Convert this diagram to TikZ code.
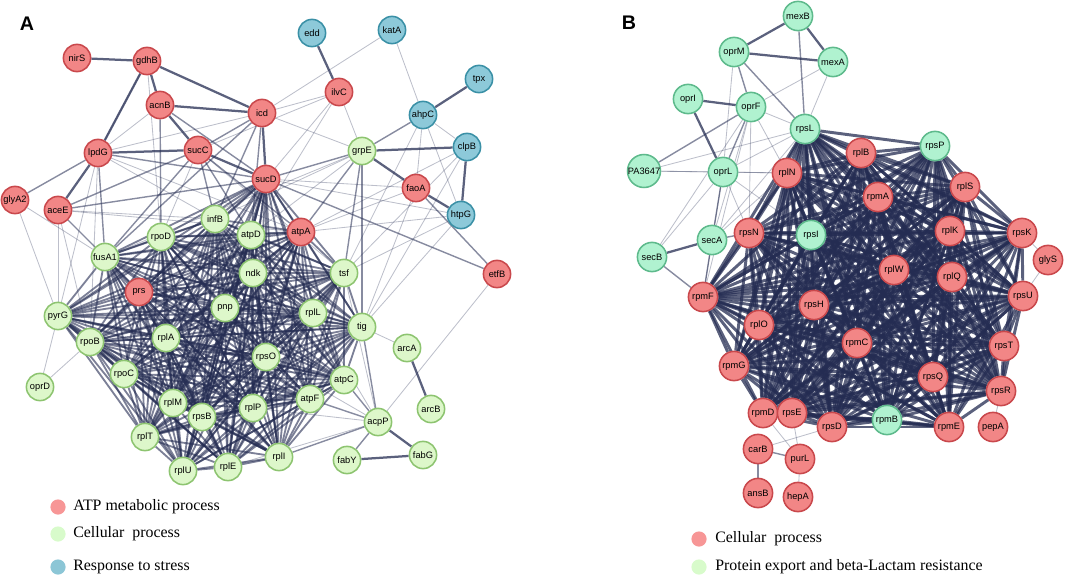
\documentclass[tikz,border=0pt]{standalone}
\usepackage{fontspec}
\setmainfont{Liberation Serif}
\setsansfont{Liberation Sans}

\definecolor{genered}{RGB}{242,134,134}
\definecolor{generedline}{RGB}{201,72,76}
\definecolor{genegreen}{RGB}{221,247,202}
\definecolor{genegreenline}{RGB}{141,196,112}
\definecolor{geneblue}{RGB}{141,201,217}
\definecolor{geneblueline}{RGB}{58,144,166}
\definecolor{genemint}{RGB}{176,242,208}
\definecolor{genemintline}{RGB}{94,186,140}
\definecolor{linknavy}{RGB}{36,44,82}
\definecolor{keyred}{RGB}{247,150,150}
\definecolor{keygreen}{RGB}{216,251,203}
\definecolor{keyblue}{RGB}{140,198,214}

\pgfdeclarelayer{links}
\pgfsetlayers{links,main}

\tikzset{
  gene/.style={circle, draw, line width=1.1pt, inner sep=0pt, minimum size=0.68cm,
    font=\sffamily\fontsize{6.6}{7}\selectfont},
  atpgene/.style={gene, fill=genered, draw=generedline},
  cellgene/.style={gene, fill=genegreen, draw=genegreenline},
  stressgene/.style={gene, fill=geneblue, draw=geneblueline},
  exportgene/.style={gene, fill=genemint, draw=genemintline, minimum size=0.73cm},
  ribogene/.style={gene, fill=genered, draw=generedline, minimum size=0.73cm},
  strong/.style={draw=linknavy, line width=1.6pt, draw opacity=0.75},
  mid/.style={draw=linknavy, line width=1pt, draw opacity=0.55},
  weak/.style={draw=linknavy, line width=0.6pt, draw opacity=0.3},
  mesh/.style={draw=linknavy, line width=1.3pt, draw opacity=0.6},
  meshB/.style={draw=linknavy, line width=2.1pt, draw opacity=0.75},
  keydot/.style={circle, inner sep=0pt, minimum size=0.38cm},
  keytext/.style={anchor=west, inner sep=0pt, font=\fontsize{11.3}{13}\selectfont},
  panel/.style={font=\sffamily\bfseries\fontsize{14}{14}\selectfont}
}

\begin{document}
\begin{tikzpicture}[x=0.025cm, y=-0.025cm]

\useasboundingbox (0,0) rectangle (1065,578);

% panel A
\node[panel] (labA) at (27,24) {A};

\node[atpgene] (nirS) at (77,58) {nirS};
\node[atpgene] (gdhB) at (147,61) {gdhB};
\node[atpgene] (acnB) at (160,105) {acnB};
\node[atpgene] (icd) at (262,113) {icd};
\node[atpgene] (ilvC) at (339,92) {ilvC};
\node[atpgene] (lpdG) at (98,153) {lpdG};
\node[atpgene] (sucC) at (198,150) {sucC};
\node[atpgene] (sucD) at (266,179) {sucD};
\node[atpgene] (glyA2) at (15,200) {glyA2};
\node[atpgene] (aceE) at (58,210) {aceE};
\node[atpgene] (faoA) at (416,188) {faoA};
\node[atpgene] (atpA) at (301,232) {atpA};
\node[atpgene] (prs) at (139,292) {prs};
\node[atpgene] (etfB) at (497,274) {etfB};

\node[stressgene] (edd) at (312,33) {edd};
\node[stressgene] (katA) at (392,30) {katA};
\node[stressgene] (tpx) at (479,79) {tpx};
\node[stressgene] (ahpC) at (423,115) {ahpC};
\node[stressgene] (clpB) at (467,147) {clpB};
\node[stressgene] (htpG) at (461,215) {htpG};

\node[cellgene] (grpE) at (362,151) {grpE};
\node[cellgene] (infB) at (215,219) {infB};
\node[cellgene] (rpoD) at (161,237) {rpoD};
\node[cellgene] (atpD) at (251,235) {atpD};
\node[cellgene] (fusA1) at (105,257) {fusA1};
\node[cellgene] (ndk) at (253,273) {ndk};
\node[cellgene] (tsf) at (344,273) {tsf};
\node[cellgene] (pnp) at (225,308) {pnp};
\node[cellgene] (pyrG) at (58,316) {pyrG};
\node[cellgene] (rplL) at (313,313) {rplL};
\node[cellgene] (tig) at (362,327) {tig};
\node[cellgene] (rpoB) at (90,342) {rpoB};
\node[cellgene] (rplA) at (166,338) {rplA};
\node[cellgene] (arcA) at (407,348) {arcA};
\node[cellgene] (rpsO) at (266,357) {rpsO};
\node[cellgene] (rpoC) at (124,374) {rpoC};
\node[cellgene] (atpC) at (344,380) {atpC};
\node[cellgene] (oprD) at (40,387) {oprD};
\node[cellgene] (rplM) at (173,403) {rplM};
\node[cellgene] (rpsB) at (202,417) {rpsB};
\node[cellgene] (rplP) at (253,408) {rplP};
\node[cellgene] (atpF) at (310,399) {atpF};
\node[cellgene] (arcB) at (431,409) {arcB};
\node[cellgene] (acpP) at (378,422) {acpP};
\node[cellgene] (rplT) at (145,437) {rplT};
\node[cellgene] (rplI) at (279,457) {rplI};
\node[cellgene] (fabY) at (347,460) {fabY};
\node[cellgene] (fabG) at (423,455) {fabG};
\node[cellgene] (rplE) at (228,467) {rplE};
\node[cellgene] (rplU) at (183,471) {rplU};

\node[keydot, fill=keyred] (keyA1) at (58,507) {};
\node[keydot, fill=keygreen] (keyA2) at (58,534) {};
\node[keydot, fill=keyblue] (keyA3) at (58,567) {};
\node[keytext] (txtA1) at (73,507) {ATP metabolic process};
\node[keytext] (txtA2) at (73,534) {Cellular~ process};
\node[keytext] (txtA3) at (73,567) {Response to stress};

% panel B
\node[panel] (labB) at (629,23) {B};

\node[exportgene] (mexB) at (798,16) {mexB};
\node[exportgene] (oprM) at (734,52) {oprM};
\node[exportgene] (mexA) at (833,62) {mexA};
\node[exportgene] (oprI) at (688,99) {oprI};
\node[exportgene] (oprF) at (751,107) {oprF};
\node[exportgene] (rpsL) at (805,129) {rpsL};
\node[exportgene] (rpsP) at (935,146) {rpsP};
\node[exportgene] (PA3647) at (644,171) {PA3647};
\node[exportgene] (oprL) at (723,172) {oprL};
\node[exportgene] (secA) at (712,240) {secA};
\node[exportgene] (rpsI) at (811,235) {rpsI};
\node[exportgene] (secB) at (652,257) {secB};
\node[exportgene] (rpmB) at (887,420) {rpmB};

\node[ribogene] (rplB) at (861,153) {rplB};
\node[ribogene] (rplN) at (787,173) {rplN};
\node[ribogene] (rpmA) at (878,197) {rpmA};
\node[ribogene] (rplS) at (965,187) {rplS};
\node[ribogene] (rpsN) at (749,233) {rpsN};
\node[ribogene] (rplK) at (950,231) {rplK};
\node[ribogene] (rpsK) at (1022,233) {rpsK};
\node[ribogene] (glyS) at (1048,260) {glyS};
\node[ribogene] (rplW) at (894,270) {rplW};
\node[ribogene] (rplQ) at (952,277) {rplQ};
\node[ribogene] (rpsU) at (1023,296) {rpsU};
\node[ribogene] (rpmF) at (703,297) {rpmF};
\node[ribogene] (rpsH) at (814,305) {rpsH};
\node[ribogene] (rplO) at (759,325) {rplO};
\node[ribogene] (rpmC) at (857,343) {rpmC};
\node[ribogene] (rpsT) at (1004,346) {rpsT};
\node[ribogene] (rpmG) at (734,366) {rpmG};
\node[ribogene] (rpsQ) at (933,377) {rpsQ};
\node[ribogene] (rpsR) at (1001,391) {rpsR};
\node[ribogene] (rpmD) at (763,413) {rpmD};
\node[ribogene] (rpsE) at (792,413) {rpsE};
\node[ribogene] (rpsD) at (832,427) {rpsD};
\node[ribogene] (rpmE) at (949,427) {rpmE};
\node[ribogene] (pepA) at (993,427) {pepA};
\node[ribogene] (carB) at (758,449) {carB};
\node[ribogene] (purL) at (800,459) {purL};
\node[ribogene] (ansB) at (758,493) {ansB};
\node[ribogene] (hepA) at (798,497) {hepA};

\node[keydot, fill=keyred] (keyB1) at (699,539) {};
\node[keydot, fill=keygreen] (keyB2) at (699,567) {};
\node[keytext] (txtB1) at (715,539) {Cellular~ process};
\node[keytext] (txtB2) at (715,567) {Protein export and beta-Lactam resistance};

\begin{pgfonlayer}{links}

% panel A, outer links
\path (nirS) edge [strong] (gdhB);
\path (gdhB) edge [strong] (acnB);
\path (gdhB) edge [strong] (icd);
\path (gdhB) edge [strong] (lpdG);
\path (gdhB) edge [weak] (rpoD);
\path (gdhB) edge [weak] (lpdG);
\path (acnB) edge [strong] (icd);
\path (acnB) edge [strong] (sucC);
\path (acnB) edge [weak] (lpdG);
\path (acnB) edge [mid] (rpoD);
\path (acnB) edge [mid] (sucD);
\path (icd) edge [strong] (sucD);
\path (icd) edge [mid] (sucC);
\path (icd) edge [weak] (ilvC);
\path (icd) edge [weak] (katA);
\path (icd) edge [mid] (atpD);
\path (icd) edge [mid] (infB);
\path (icd) edge [weak] (grpE);
\path (icd) edge [weak] (lpdG);
\path (icd) edge [mid] (fusA1);
\path (edd) edge [strong] (ilvC);
\path (ilvC) edge [weak] (grpE);
\path (ilvC) edge [weak] (sucD);
\path (ilvC) edge [weak] (atpD);
\path (ilvC) edge [weak] (sucC);
\path (katA) edge [weak] (ahpC);
\path (tpx) edge [strong] (ahpC);
\path (ahpC) edge [mid] (grpE);
\path (ahpC) edge [weak] (clpB);
\path (ahpC) edge [weak] (faoA);
\path (ahpC) edge [weak] (htpG);
\path (ahpC) edge [weak] (tsf);
\path (clpB) edge [strong] (grpE);
\path (clpB) edge [strong] (htpG);
\path (clpB) edge [weak] (tsf);
\path (clpB) edge [weak] (atpA);
\path (clpB) edge [weak] (tig);
\path (grpE) edge [strong] (faoA);
\path (grpE) edge [mid] (tig);
\path (grpE) edge [mid] (sucD);
\path (grpE) edge [mid] (atpA);
\path (grpE) edge [mid] (tsf);
\path (grpE) edge [weak] (infB);
\path (grpE) edge [weak] (fusA1);
\path (grpE) edge [weak] (atpD);
\path (faoA) edge [strong] (htpG);
\path (faoA) edge [mid] (etfB);
\path (faoA) edge [weak] (atpA);
\path (faoA) edge [weak] (sucD);
\path (faoA) edge [weak] (tig);
\path (htpG) edge [weak] (atpA);
\path (htpG) edge [weak] (sucD);
\path (htpG) edge [weak] (tsf);
\path (htpG) edge [weak] (tig);
\path (sucD) edge [mid] (etfB);
\path (etfB) edge [weak] (acpP);
\path (lpdG) edge [strong] (sucC);
\path (lpdG) edge [strong] (aceE);
\path (lpdG) edge [mid] (glyA2);
\path (lpdG) edge [mid] (fusA1);
\path (lpdG) edge [weak] (pyrG);
\path (lpdG) edge [weak] (rpoB);
\path (lpdG) edge [mid] (sucD);
\path (lpdG) edge [weak] (atpA);
\path (lpdG) edge [weak] (infB);
\path (sucC) edge [strong] (sucD);
\path (sucC) edge [mid] (infB);
\path (sucC) edge [mid] (atpD);
\path (sucC) edge [mid] (atpA);
\path (sucC) edge [mid] (fusA1);
\path (sucC) edge [mid] (aceE);
\path (sucC) edge [weak] (tsf);
\path (sucC) edge [weak] (rpoD);
\path (aceE) edge [mid] (fusA1);
\path (aceE) edge [mid] (sucD);
\path (aceE) edge [weak] (pyrG);
\path (aceE) edge [weak] (rpoB);
\path (aceE) edge [weak] (atpA);
\path (aceE) edge [weak] (infB);
\path (glyA2) edge [weak] (pyrG);
\path (glyA2) edge [weak] (fusA1);
\path (oprD) edge [weak] (pyrG);
\path (oprD) edge [weak] (rpoB);
\path (arcA) edge [weak] (tig);
\path (arcA) edge [strong] (arcB);
\path (acpP) edge [strong] (fabG);
\path (acpP) edge [mid] (fabY);
\path (fabY) edge [strong] (fabG);
\path (acpP) edge [mid] (tig);
\path (acpP) edge [mid] (atpC);
\path (acpP) edge [mid] (atpF);
\path (acpP) edge [mid] (rplI);
\path (acpP) edge [weak] (rplL);
\path (acpP) edge [weak] (tsf);
\path (acpP) edge [weak] (rpsO);
\path (acpP) edge [weak] (rplP);
\path (acpP) edge [weak] (rplE);

% panel A, dense core
\begin{scope}[every edge/.style={mesh}]
\path (fusA1) edge (pyrG) edge (rpoB) edge (rpoC) edge (rplA) edge (prs) edge (rpoD) edge (infB) edge (atpD) edge (ndk) edge (pnp) edge (rplL) edge (tsf) edge (tig) edge (rpsO) edge (rplM) edge (rpsB) edge (rplP) edge (rplT) edge (rplU) edge (rplE) edge (rplI) edge (atpC) edge (atpF) edge (atpA) edge (sucD);
\path (pyrG) edge (rpoB) edge (rpoC) edge (rplA) edge (prs) edge (rpoD) edge (infB) edge (atpD) edge (ndk) edge (pnp) edge (rplL) edge (tsf) edge (tig) edge (rpsO) edge (rplM) edge (rpsB) edge (rplP) edge (rplT) edge (rplU) edge (rplE) edge (rplI) edge (atpC) edge (atpF) edge (atpA) edge (sucD);
\path (rpoB) edge (rpoC) edge (rplA) edge (prs) edge (rpoD) edge (infB) edge (atpD) edge (ndk) edge (pnp) edge (rplL) edge (tsf) edge (tig) edge (rpsO) edge (rplM) edge (rpsB) edge (rplP) edge (rplT) edge (rplU) edge (rplE) edge (rplI) edge (atpC) edge (atpF) edge (atpA) edge (sucD);
\path (rpoC) edge (rplA) edge (prs) edge (rpoD) edge (infB) edge (atpD) edge (ndk) edge (pnp) edge (rplL) edge (tsf) edge (tig) edge (rpsO) edge (rplM) edge (rpsB) edge (rplP) edge (rplT) edge (rplU) edge (rplE) edge (rplI) edge (atpC) edge (atpF) edge (atpA) edge (sucD);
\path (rplA) edge (prs) edge (rpoD) edge (infB) edge (atpD) edge (ndk) edge (pnp) edge (rplL) edge (tsf) edge (tig) edge (rpsO) edge (rplM) edge (rpsB) edge (rplP) edge (rplT) edge (rplU) edge (rplE) edge (rplI) edge (atpC) edge (atpF) edge (atpA) edge (sucD);
\path (prs) edge (rpoD) edge (infB) edge (atpD) edge (ndk) edge (pnp) edge (rplL) edge (tsf) edge (tig) edge (rpsO) edge (rplM) edge (rpsB) edge (rplP) edge (rplT) edge (rplU) edge (rplE) edge (rplI) edge (atpC) edge (atpF) edge (atpA) edge (sucD);
\path (rpoD) edge (infB) edge (atpD) edge (ndk) edge (pnp) edge (rplL) edge (tsf) edge (tig) edge (rpsO) edge (rplM) edge (rpsB) edge (rplP) edge (rplT) edge (rplU) edge (rplE) edge (rplI) edge (atpC) edge (atpF) edge (atpA) edge (sucD);
\path (infB) edge (atpD) edge (ndk) edge (pnp) edge (rplL) edge (tsf) edge (tig) edge (rpsO) edge (rplM) edge (rpsB) edge (rplP) edge (rplT) edge (rplU) edge (rplE) edge (rplI) edge (atpC) edge (atpF) edge (atpA) edge (sucD);
\path (atpD) edge (ndk) edge (pnp) edge (rplL) edge (tsf) edge (tig) edge (rpsO) edge (rplM) edge (rpsB) edge (rplP) edge (rplT) edge (rplU) edge (rplE) edge (rplI) edge (atpC) edge (atpF) edge (atpA) edge (sucD);
\path (ndk) edge (pnp) edge (rplL) edge (tsf) edge (tig) edge (rpsO) edge (rplM) edge (rpsB) edge (rplP) edge (rplT) edge (rplU) edge (rplE) edge (rplI) edge (atpC) edge (atpF) edge (atpA) edge (sucD);
\path (pnp) edge (rplL) edge (tsf) edge (tig) edge (rpsO) edge (rplM) edge (rpsB) edge (rplP) edge (rplT) edge (rplU) edge (rplE) edge (rplI) edge (atpC) edge (atpF) edge (atpA) edge (sucD);
\path (rplL) edge (tsf) edge (tig) edge (rpsO) edge (rplM) edge (rpsB) edge (rplP) edge (rplT) edge (rplU) edge (rplE) edge (rplI) edge (atpC) edge (atpF) edge (atpA) edge (sucD);
\path (tsf) edge (tig) edge (rpsO) edge (rplM) edge (rpsB) edge (rplP) edge (rplT) edge (rplU) edge (rplE) edge (rplI) edge (atpC) edge (atpF) edge (atpA) edge (sucD);
\path (tig) edge (rpsO) edge (rplM) edge (rpsB) edge (rplP) edge (rplT) edge (rplU) edge (rplE) edge (rplI) edge (atpC) edge (atpF) edge (atpA) edge (sucD);
\path (rpsO) edge (rplM) edge (rpsB) edge (rplP) edge (rplT) edge (rplU) edge (rplE) edge (rplI) edge (atpC) edge (atpF) edge (atpA) edge (sucD);
\path (rplM) edge (rpsB) edge (rplP) edge (rplT) edge (rplU) edge (rplE) edge (rplI) edge (atpC) edge (atpF) edge (atpA) edge (sucD);
\path (rpsB) edge (rplP) edge (rplT) edge (rplU) edge (rplE) edge (rplI) edge (atpC) edge (atpF) edge (atpA) edge (sucD);
\path (rplP) edge (rplT) edge (rplU) edge (rplE) edge (rplI) edge (atpC) edge (atpF) edge (atpA) edge (sucD);
\path (rplT) edge (rplU) edge (rplE) edge (rplI) edge (atpC) edge (atpF) edge (atpA) edge (sucD);
\path (rplU) edge (rplE) edge (rplI) edge (atpC) edge (atpF) edge (atpA) edge (sucD);
\path (rplE) edge (rplI) edge (atpC) edge (atpF) edge (atpA) edge (sucD);
\path (rplI) edge (atpC) edge (atpF) edge (atpA) edge (sucD);
\path (atpC) edge (atpF) edge (atpA) edge (sucD);
\path (atpF) edge (atpA) edge (sucD);
\path (atpA) edge (sucD);
\end{scope}

% panel B, outer links
\path (mexB) edge [strong] (oprM);
\path (mexB) edge [strong] (mexA);
\path (mexB) edge [mid] (rpsL);
\path (oprM) edge [strong] (mexA);
\path (oprM) edge [mid] (oprF);
\path (oprM) edge [mid] (rpsL);
\path (oprM) edge [weak] (oprL);
\path (mexA) edge [weak] (oprF);
\path (mexA) edge [weak] (rpsL);
\path (oprI) edge [strong] (oprF);
\path (oprI) edge [strong] (oprL);
\path (oprF) edge [mid] (PA3647);
\path (oprF) edge [weak] (rpsL);
\path (oprF) edge [mid] (oprL);
\path (oprF) edge [weak] (rplN);
\path (oprF) edge [weak] (secA);
\path (oprF) edge [weak] (rpsN);
\path (oprF) edge [weak] (rpmF);
\path (oprF) edge [weak] (secB);
\path (PA3647) edge [weak] (rpsL);
\path (PA3647) edge [weak] (oprL);
\path (PA3647) edge [weak] (rplN);
\path (oprL) edge [weak] (rpsL);
\path (oprL) edge [weak] (rplN);
\path (oprL) edge [mid] (secA);
\path (oprL) edge [weak] (rpsN);
\path (oprL) edge [weak] (rpmF);
\path (oprL) edge [weak] (secB);
\path (oprL) edge [weak] (rpsI);
\path (secB) edge [strong] (secA);
\path (secB) edge [mid] (rpmF);
\path (secA) edge [mid] (rpsN);
\path (secA) edge [mid] (rpmF);
\path (secA) edge [weak] (rpsL);
\path (secA) edge [weak] (rplN);
\path (rpsK) edge [weak] (glyS);
\path (rpsU) edge [weak] (glyS);
\path (rpsR) edge [weak] (pepA);
\path (rpmD) edge [weak] (purL);
\path (rpsE) edge [weak] (purL);
\path (rpsD) edge [weak] (carB);
\path (carB) edge [mid] (purL);
\path (carB) edge [mid] (ansB);
\path (purL) edge [weak] (hepA);

% panel B, dense core
\begin{scope}[every edge/.style={meshB}]
\path (rpsL) edge (rplB) edge (rpsP) edge (rplN) edge (rpmA) edge (rplS) edge (rpsN) edge (rpsI) edge (rplK) edge (rpsK) edge (rplW) edge (rplQ) edge (rpsU) edge (rpmF) edge (rpsH) edge (rplO) edge (rpmC) edge (rpsT) edge (rpmG) edge (rpsQ) edge (rpsR) edge (rpmD) edge (rpsE) edge (rpsD) edge (rpmB) edge (rpmE);
\path (rplB) edge (rpsP) edge (rplN) edge (rpmA) edge (rplS) edge (rpsN) edge (rpsI) edge (rplK) edge (rpsK) edge (rplW) edge (rplQ) edge (rpsU) edge (rpmF) edge (rpsH) edge (rplO) edge (rpmC) edge (rpsT) edge (rpmG) edge (rpsQ) edge (rpsR) edge (rpmD) edge (rpsE) edge (rpsD) edge (rpmB) edge (rpmE);
\path (rpsP) edge (rplN) edge (rpmA) edge (rplS) edge (rpsN) edge (rpsI) edge (rplK) edge (rpsK) edge (rplW) edge (rplQ) edge (rpsU) edge (rpmF) edge (rpsH) edge (rplO) edge (rpmC) edge (rpsT) edge (rpmG) edge (rpsQ) edge (rpsR) edge (rpmD) edge (rpsE) edge (rpsD) edge (rpmB) edge (rpmE);
\path (rplN) edge (rpmA) edge (rplS) edge (rpsN) edge (rpsI) edge (rplK) edge (rpsK) edge (rplW) edge (rplQ) edge (rpsU) edge (rpmF) edge (rpsH) edge (rplO) edge (rpmC) edge (rpsT) edge (rpmG) edge (rpsQ) edge (rpsR) edge (rpmD) edge (rpsE) edge (rpsD) edge (rpmB) edge (rpmE);
\path (rpmA) edge (rplS) edge (rpsN) edge (rpsI) edge (rplK) edge (rpsK) edge (rplW) edge (rplQ) edge (rpsU) edge (rpmF) edge (rpsH) edge (rplO) edge (rpmC) edge (rpsT) edge (rpmG) edge (rpsQ) edge (rpsR) edge (rpmD) edge (rpsE) edge (rpsD) edge (rpmB) edge (rpmE);
\path (rplS) edge (rpsN) edge (rpsI) edge (rplK) edge (rpsK) edge (rplW) edge (rplQ) edge (rpsU) edge (rpmF) edge (rpsH) edge (rplO) edge (rpmC) edge (rpsT) edge (rpmG) edge (rpsQ) edge (rpsR) edge (rpmD) edge (rpsE) edge (rpsD) edge (rpmB) edge (rpmE);
\path (rpsN) edge (rpsI) edge (rplK) edge (rpsK) edge (rplW) edge (rplQ) edge (rpsU) edge (rpmF) edge (rpsH) edge (rplO) edge (rpmC) edge (rpsT) edge (rpmG) edge (rpsQ) edge (rpsR) edge (rpmD) edge (rpsE) edge (rpsD) edge (rpmB) edge (rpmE);
\path (rpsI) edge (rplK) edge (rpsK) edge (rplW) edge (rplQ) edge (rpsU) edge (rpmF) edge (rpsH) edge (rplO) edge (rpmC) edge (rpsT) edge (rpmG) edge (rpsQ) edge (rpsR) edge (rpmD) edge (rpsE) edge (rpsD) edge (rpmB) edge (rpmE);
\path (rplK) edge (rpsK) edge (rplW) edge (rplQ) edge (rpsU) edge (rpmF) edge (rpsH) edge (rplO) edge (rpmC) edge (rpsT) edge (rpmG) edge (rpsQ) edge (rpsR) edge (rpmD) edge (rpsE) edge (rpsD) edge (rpmB) edge (rpmE);
\path (rpsK) edge (rplW) edge (rplQ) edge (rpsU) edge (rpmF) edge (rpsH) edge (rplO) edge (rpmC) edge (rpsT) edge (rpmG) edge (rpsQ) edge (rpsR) edge (rpmD) edge (rpsE) edge (rpsD) edge (rpmB) edge (rpmE);
\path (rplW) edge (rplQ) edge (rpsU) edge (rpmF) edge (rpsH) edge (rplO) edge (rpmC) edge (rpsT) edge (rpmG) edge (rpsQ) edge (rpsR) edge (rpmD) edge (rpsE) edge (rpsD) edge (rpmB) edge (rpmE);
\path (rplQ) edge (rpsU) edge (rpmF) edge (rpsH) edge (rplO) edge (rpmC) edge (rpsT) edge (rpmG) edge (rpsQ) edge (rpsR) edge (rpmD) edge (rpsE) edge (rpsD) edge (rpmB) edge (rpmE);
\path (rpsU) edge (rpmF) edge (rpsH) edge (rplO) edge (rpmC) edge (rpsT) edge (rpmG) edge (rpsQ) edge (rpsR) edge (rpmD) edge (rpsE) edge (rpsD) edge (rpmB) edge (rpmE);
\path (rpmF) edge (rpsH) edge (rplO) edge (rpmC) edge (rpsT) edge (rpmG) edge (rpsQ) edge (rpsR) edge (rpmD) edge (rpsE) edge (rpsD) edge (rpmB) edge (rpmE);
\path (rpsH) edge (rplO) edge (rpmC) edge (rpsT) edge (rpmG) edge (rpsQ) edge (rpsR) edge (rpmD) edge (rpsE) edge (rpsD) edge (rpmB) edge (rpmE);
\path (rplO) edge (rpmC) edge (rpsT) edge (rpmG) edge (rpsQ) edge (rpsR) edge (rpmD) edge (rpsE) edge (rpsD) edge (rpmB) edge (rpmE);
\path (rpmC) edge (rpsT) edge (rpmG) edge (rpsQ) edge (rpsR) edge (rpmD) edge (rpsE) edge (rpsD) edge (rpmB) edge (rpmE);
\path (rpsT) edge (rpmG) edge (rpsQ) edge (rpsR) edge (rpmD) edge (rpsE) edge (rpsD) edge (rpmB) edge (rpmE);
\path (rpmG) edge (rpsQ) edge (rpsR) edge (rpmD) edge (rpsE) edge (rpsD) edge (rpmB) edge (rpmE);
\path (rpsQ) edge (rpsR) edge (rpmD) edge (rpsE) edge (rpsD) edge (rpmB) edge (rpmE);
\path (rpsR) edge (rpmD) edge (rpsE) edge (rpsD) edge (rpmB) edge (rpmE);
\path (rpmD) edge (rpsE) edge (rpsD) edge (rpmB) edge (rpmE);
\path (rpsE) edge (rpsD) edge (rpmB) edge (rpmE);
\path (rpsD) edge (rpmB) edge (rpmE);
\path (rpmB) edge (rpmE);
\end{scope}

\end{pgfonlayer}

\end{tikzpicture}
\end{document}
